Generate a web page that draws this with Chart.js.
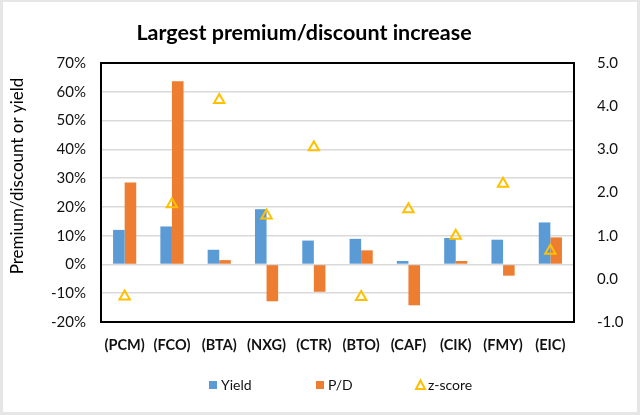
<!DOCTYPE html>
<html>
<head>
<meta charset="utf-8">
<script src="https://cdn.jsdelivr.net/npm/chart.js@4"></script>
<style>
    body { margin: 0; background: #e6e6e6; }
    #wrap { position: absolute; left: 3px; top: 2px; width: 634px; height: 410px; background: #fff; }
    #wrap2 { position: absolute; left: -3px; top: -2px; width: 640px; height: 415px; }
</style>
</head>
<body>
<div id="wrap"><div id="wrap2"><canvas id="premiumChart" width="640" height="415"></canvas></div></div>
<script>
// Fund tickers
const categories = ["(PCM)", "(FCO)", "(BTA)", "(NXG)", "(CTR)", "(BTO)", "(CAF)", "(CIK)", "(FMY)", "(EIC)"];

// Values in percent (left axis)
const yieldValues = [12.0, 13.2, 5.1, 19.2, 8.3, 8.9, 1.2, 9.2, 8.6, 14.6];
const pdValues = [28.5, 63.7, 1.5, -12.8, -9.5, 4.9, -14.2, 1.2, -3.9, 9.4];

// z-score (right axis)
const zScores = [-0.41, 1.73, 4.14, 1.47, 3.05, -0.42, 1.61, 1.0, 2.2, 0.65];

const titleText = "Largest premium/discount increase";
const yTitleText = "Premium/discount or yield";

const FONT = "Lato, 'Open Sans', sans-serif";

// legend x positions (marker left edge)
const legendX = [209, 316, 416];

// Black frame around the plot, chart title, axis title and legend
const extras = {
    id: 'extras',
    afterDraw(chart) {
        const c = chart.ctx;
        const a = chart.chartArea;
        c.save();
        c.strokeStyle = '#000';
        c.lineWidth = 2;
        c.strokeRect(a.left, a.top, a.right - a.left, a.bottom - a.top);

        // title
        c.fillStyle = '#000';
        c.font = "bold 21.5px " + FONT;
        c.textAlign = 'center';
        c.textBaseline = 'middle';
        c.fillText(titleText, 304, 33);

        // legend
        const ly = 385;
        c.font = "14px " + FONT;
        c.textAlign = 'left';
        chart.data.datasets.forEach((ds, i) => {
            const x = legendX[i];
            if (ds.pointStyle === 'triangle') {
                c.strokeStyle = ds.borderColor;
                c.lineWidth = 2;
                c.beginPath();
                c.moveTo(x + 4.5, ly - 4.5);
                c.lineTo(x + 9, ly + 4);
                c.lineTo(x, ly + 4);
                c.closePath();
                c.stroke();
            } else {
                c.fillStyle = ds.backgroundColor;
                c.fillRect(x, ly - 4, 8, 8);
            }
            c.fillStyle = '#111';
            c.fillText(ds.label, x + 12, ly);
        });

        // left axis title
        c.fillStyle = '#000';
        c.translate(18, 176);
        c.rotate(-Math.PI / 2);
        c.font = "17px " + FONT;
        c.textAlign = 'center';
        c.fillText(yTitleText, 0, 0);
        c.restore();
    }
};

const ctx = document.getElementById('premiumChart').getContext('2d');

new Chart(ctx, {
    type: 'bar',
    data: {
        labels: categories,
        datasets: [
            {
                label: "Yield",
                data: yieldValues,
                backgroundColor: "#5B9BD5",
                yAxisID: 'y',
                categoryPercentage: 0.49,
                barPercentage: 1.0,
                order: 2
            },
            {
                label: "P/D",
                data: pdValues,
                backgroundColor: "#ED7D31",
                yAxisID: 'y',
                categoryPercentage: 0.49,
                barPercentage: 1.0,
                order: 2
            },
            {
                type: 'line',
                label: "z-score",
                data: zScores,
                showLine: false,
                yAxisID: 'y1',
                pointStyle: 'triangle',
                pointRadius: 6,
                borderWidth: 2,
                borderColor: "#FFC000",
                backgroundColor: "rgba(0,0,0,0)",
                pointBorderColor: "#FFC000",
                pointBackgroundColor: "rgba(0,0,0,0)",
                order: 1
            }
        ]
    },
    options: {
        responsive: false,
        animation: false,
        layout: { padding: { top: 63, left: 3, right: 3, bottom: 0 } },
        plugins: {
            title: { display: false },
            tooltip: { enabled: false },
            legend: { display: false }
        },
        scales: {
            x: {
                grid: { display: false },
                border: { display: false },
                ticks: { color: '#111', padding: 7, font: { family: FONT, size: 14.5, weight: 'bold' } },
                afterFit(scale) { scale.height = 93; }
            },
            y: {
                position: 'left',
                min: -20,
                max: 70,
                ticks: {
                    stepSize: 10,
                    padding: 15,
                    color: '#111',
                    font: { family: FONT, size: 15 },
                    callback: v => v + '%'
                },
                grid: { color: '#D9D9D9', lineWidth: 1.5, drawTicks: false },
                border: { display: false },
                afterFit(scale) { scale.width = 98; }
            },
            y1: {
                position: 'right',
                min: -1,
                max: 5,
                ticks: {
                    stepSize: 1,
                    padding: 15,
                    color: '#111',
                    font: { family: FONT, size: 15 },
                    callback: v => v.toFixed(1)
                },
                grid: { display: false },
                border: { display: false },
                afterFit(scale) { scale.width = 63; }
            }
        }
    },
    plugins: [extras]
});
</script>
</body>
</html>
